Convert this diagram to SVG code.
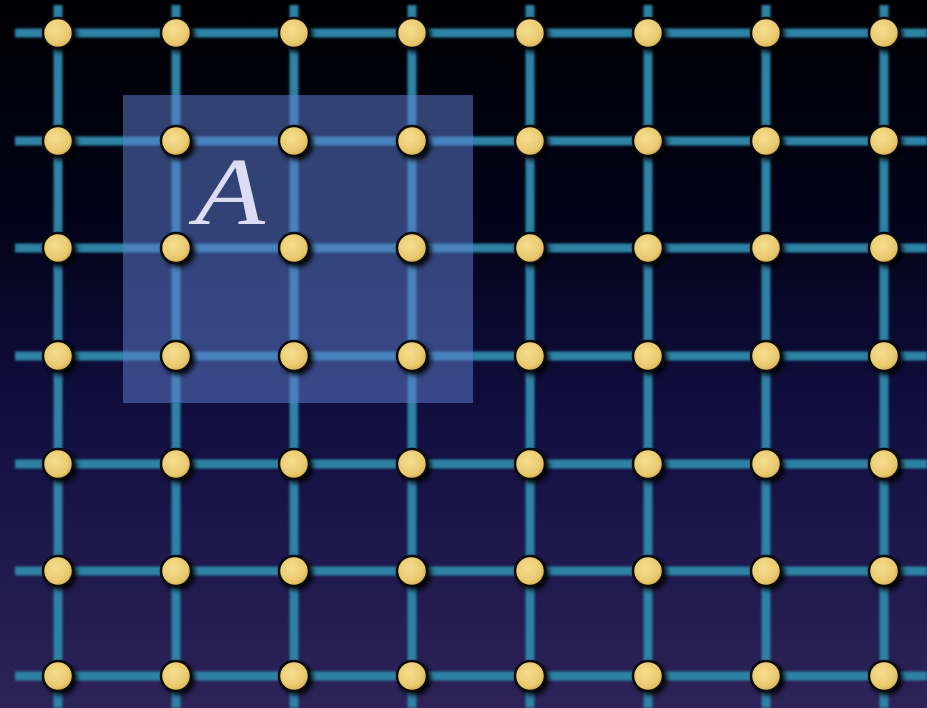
<svg xmlns="http://www.w3.org/2000/svg" xmlns:xlink="http://www.w3.org/1999/xlink" width="927" height="708" viewBox="0 0 927 708">
<defs>
<linearGradient id="bg" x1="0" y1="0" x2="0" y2="1">
<stop offset="0" stop-color="#000004"/>
<stop offset="0.3" stop-color="#020318"/>
<stop offset="0.6" stop-color="#120f42"/>
<stop offset="1" stop-color="#2d2358"/>
</linearGradient>
<radialGradient id="dotg" cx="0.42" cy="0.4" r="0.65">
<stop offset="0" stop-color="#f6de90"/>
<stop offset="0.7" stop-color="#e9c96e"/>
<stop offset="1" stop-color="#cfa850"/>
</radialGradient>
<filter id="sh" x="-50%" y="-50%" width="200%" height="200%">
<feDropShadow dx="3" dy="3" stdDeviation="2.5" flood-color="#000" flood-opacity="0.9"/>
</filter>
<filter id="soft" x="-5%" y="-5%" width="110%" height="110%">
<feGaussianBlur stdDeviation="0.8"/>
</filter>
<circle id="dot" r="15" fill="url(#dotg)" stroke="#080808" stroke-width="2.5" filter="url(#sh)"/>
</defs>
<style>
.h{stroke:#2d82a5;stroke-width:9;fill:none}
.v{stroke:#2d82a5;stroke-width:9;fill:none}
.lbl{font-family:"Liberation Serif","DejaVu Serif",serif;font-style:italic;font-size:96px;fill:#dcdcf2}
</style>
<rect width="927" height="708" fill="url(#bg)"/>
<g id="connectors" filter="url(#soft)">
<line class="h" x1="15" y1="33" x2="927" y2="33"/>
<line class="h" x1="15" y1="141" x2="927" y2="141"/>
<line class="h" x1="15" y1="248" x2="927" y2="248"/>
<line class="h" x1="15" y1="356" x2="927" y2="356"/>
<line class="h" x1="15" y1="464" x2="927" y2="464"/>
<line class="h" x1="15" y1="571" x2="927" y2="571"/>
<line class="h" x1="15" y1="676" x2="927" y2="676"/>
<line class="v" x1="58" y1="5" x2="58" y2="708"/>
<line class="v" x1="176" y1="5" x2="176" y2="708"/>
<line class="v" x1="294" y1="5" x2="294" y2="708"/>
<line class="v" x1="412" y1="5" x2="412" y2="708"/>
<line class="v" x1="530" y1="5" x2="530" y2="708"/>
<line class="v" x1="648" y1="5" x2="648" y2="708"/>
<line class="v" x1="766" y1="5" x2="766" y2="708"/>
<line class="v" x1="884" y1="5" x2="884" y2="708"/>
</g>
<g id="regionA">
<rect x="123" y="95" width="350" height="308" fill="#6282d6" fill-opacity="0.5"/>
</g>
<g id="nodes">
<g id="n-r1"><use href="#dot" x="58" y="33"/><use href="#dot" x="176" y="33"/><use href="#dot" x="294" y="33"/><use href="#dot" x="412" y="33"/><use href="#dot" x="530" y="33"/><use href="#dot" x="648" y="33"/><use href="#dot" x="766" y="33"/><use href="#dot" x="884" y="33"/></g>
<g id="n-r2"><use href="#dot" x="58" y="141"/><use href="#dot" x="176" y="141"/><use href="#dot" x="294" y="141"/><use href="#dot" x="412" y="141"/><use href="#dot" x="530" y="141"/><use href="#dot" x="648" y="141"/><use href="#dot" x="766" y="141"/><use href="#dot" x="884" y="141"/></g>
<g id="n-r3"><use href="#dot" x="58" y="248"/><use href="#dot" x="176" y="248"/><use href="#dot" x="294" y="248"/><use href="#dot" x="412" y="248"/><use href="#dot" x="530" y="248"/><use href="#dot" x="648" y="248"/><use href="#dot" x="766" y="248"/><use href="#dot" x="884" y="248"/></g>
<g id="n-r4"><use href="#dot" x="58" y="356"/><use href="#dot" x="176" y="356"/><use href="#dot" x="294" y="356"/><use href="#dot" x="412" y="356"/><use href="#dot" x="530" y="356"/><use href="#dot" x="648" y="356"/><use href="#dot" x="766" y="356"/><use href="#dot" x="884" y="356"/></g>
<g id="n-r5"><use href="#dot" x="58" y="464"/><use href="#dot" x="176" y="464"/><use href="#dot" x="294" y="464"/><use href="#dot" x="412" y="464"/><use href="#dot" x="530" y="464"/><use href="#dot" x="648" y="464"/><use href="#dot" x="766" y="464"/><use href="#dot" x="884" y="464"/></g>
<g id="n-r6"><use href="#dot" x="58" y="571"/><use href="#dot" x="176" y="571"/><use href="#dot" x="294" y="571"/><use href="#dot" x="412" y="571"/><use href="#dot" x="530" y="571"/><use href="#dot" x="648" y="571"/><use href="#dot" x="766" y="571"/><use href="#dot" x="884" y="571"/></g>
<g id="n-r7"><use href="#dot" x="58" y="676"/><use href="#dot" x="176" y="676"/><use href="#dot" x="294" y="676"/><use href="#dot" x="412" y="676"/><use href="#dot" x="530" y="676"/><use href="#dot" x="648" y="676"/><use href="#dot" x="766" y="676"/><use href="#dot" x="884" y="676"/></g>
</g>
<g id="label-A">
<text class="lbl" x="195" y="224" textLength="70" lengthAdjust="spacingAndGlyphs">A</text>
</g>
</svg>
